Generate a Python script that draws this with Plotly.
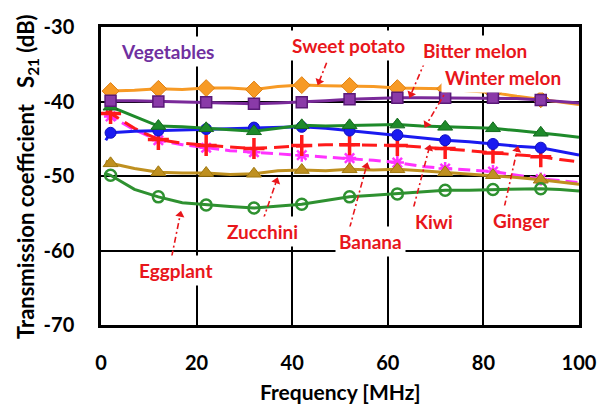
import math
import plotly.graph_objects as go

freq = [1, 2, 7, 12, 17, 22, 27, 32, 37, 42, 47, 52, 57, 62, 67, 72, 77, 82, 87, 92, 96, 100]
marker_freqs = [2, 12, 22, 32, 42, 52, 62, 72, 82, 92]

sweet_potato = [-38.9, -38.6, -38.5, -38.3, -38.4, -38.2, -38.2, -38.4, -38.0, -37.8, -37.9,
                -37.9, -38.0, -38.2, -38.2, -38.3, -38.6, -38.8, -39.3, -39.7, -40.0, -40.4]
bitter_melon = [-40.0, -39.9, -39.9, -40.0, -40.1, -40.1, -40.2, -40.3, -40.2, -40.1, -39.9,
                -39.7, -39.6, -39.5, -39.5, -39.5, -39.5, -39.5, -39.6, -39.8, -40.0, -40.2]
winter_melon = [-40.4, -40.7, -42.0, -43.3, -43.4, -43.6, -43.9, -44.0, -43.6, -43.2, -43.3,
                -43.2, -43.2, -43.1, -43.3, -43.4, -43.5, -43.6, -43.9, -44.2, -44.5, -44.8]
blue_series = [-45.2, -44.2, -44.0, -43.9, -43.8, -43.7, -43.6, -43.5, -43.4, -43.4, -43.6,
               -43.9, -44.2, -44.5, -44.9, -45.2, -45.4, -45.7, -46.0, -46.2, -46.7, -47.2]
kiwi = [-41.3, -41.6, -43.6, -45.1, -45.6, -45.9, -46.1, -46.3, -46.1, -45.9, -45.8,
        -45.8, -45.8, -45.9, -46.1, -46.3, -46.6, -46.9, -47.1, -47.4, -47.8, -48.1]
banana = [-41.8, -42.0, -43.8, -45.2, -45.8, -46.2, -46.6, -46.8, -47.0, -47.2, -47.5,
          -47.6, -47.9, -48.2, -48.7, -49.0, -49.2, -49.4, -49.9, -50.4, -50.6, -50.9]
zucchini = [-48.0, -48.3, -49.0, -49.5, -49.6, -49.6, -49.8, -49.7, -49.3, -49.2, -49.3,
            -49.1, -49.2, -49.1, -49.3, -49.5, -49.7, -49.9, -50.2, -50.5, -50.8, -51.1]
eggplant = [-49.7, -49.9, -51.8, -52.8, -53.6, -53.9, -54.1, -54.3, -54.0, -53.8, -53.3,
            -52.8, -52.6, -52.4, -52.1, -51.9, -51.9, -51.8, -51.8, -51.7, -51.8, -52.0]

x_ticks = [0, 20, 40, 60, 80, 100]
x_tick_text = ["0", "20", "40", "60", "80", "100"]
y_ticks = [-70, -60, -50, -40, -30]
y_tick_text = ["-70", "-60", "-50", "-40", "-30"]

FONT = "Lato"
RED = "#E8161B"
fig = go.Figure()

series = [
    (banana, "#FF33FF", "12px,6px", dict(symbol="asterisk-open", size=11, color="#FF33FF", line=dict(width=2.5, color="#FF33FF"))),
    (kiwi, "#FF1A1A", "15px,7px", dict(symbol="cross-thin-open", size=15, color="#FF1A1A", line=dict(width=3.5, color="#FF1A1A"))),
    (zucchini, "#BF9020", None, dict(symbol="triangle-up", size=13, color="#BF9020", line=dict(width=1, color="#A07810"))),
    (eggplant, "#2E9130", None, dict(symbol="circle-open", size=11, color="#2E9130", line=dict(width=2.5, color="#2E9130"))),
    (blue_series, "#1A1AF0", None, dict(symbol="circle", size=11, color="#1A1AF0", line=dict(width=1, color="#1010C0"))),
    (winter_melon, "#1E8A2A", None, dict(symbol="triangle-up", size=13, color="#1E8A2A", line=dict(width=1, color="#156A1E"))),
    (sweet_potato, "#F79A25", None, dict(symbol="diamond", size=13, color="#F79A25", line=dict(width=1, color="#E08010"))),
    (bitter_melon, "#7A2A9A", None, dict(symbol="square", size=11, color="#8A3AA8", line=dict(width=1.5, color="#5A1A78"))),
]

for ys, col, dash, mk in series:
    line = dict(color=col, width=3)
    if dash:
        line["dash"] = dash
    fig.add_trace(go.Scatter(x=freq, y=ys, mode="lines", line=line, hoverinfo="skip", showlegend=False))
    mx = [f for f in freq if f in marker_freqs]
    my = [y for f, y in zip(freq, ys) if f in marker_freqs]
    fig.add_trace(go.Scatter(x=mx, y=my, mode="markers", marker=mk, hoverinfo="skip", showlegend=False))

# arrows: tail (x, y) -> head (x, y)
arrows = [
    ((47.2, -34.8), (45.4, -37.7)),
    ((67.8, -34.6), (64.6, -39.4)),
    ((72.7, -38.1), (67.8, -43.4)),
    ((65.4, -54.2), (68.8, -45.9)),
    ((84.4, -54.1), (87.2, -46.1)),
    ((52.0, -57.0), (55.7, -48.3)),
    ((33.9, -55.9), (36.9, -50.3)),
    ((14.8, -60.8), (16.7, -54.8)),
]
PX_X = 478.0 / 100.0
PX_Y = 298.0 / 40.0
head_x, head_y, head_ang = [], [], []
for (tx, ty), (hx, hy) in arrows:
    dx = (hx - tx) * PX_X
    dy = (hy - ty) * PX_Y
    n = math.hypot(dx, dy)
    back = 3.0
    sx = hx - dx / n * back / PX_X
    sy = hy - dy / n * back / PX_Y
    fig.add_shape(type="line", x0=tx, y0=ty, x1=sx, y1=sy, xref="x", yref="y",
                  line=dict(color=RED, width=1.6, dash="6px,3px,2px,3px"))
    head_x.append(sx)
    head_y.append(sy)
    head_ang.append(math.degrees(math.atan2(dx, dy)))

fig.add_trace(go.Scatter(x=head_x, y=head_y, mode="markers", hoverinfo="skip", showlegend=False,
                         marker=dict(symbol="triangle-up", size=8, color=RED, angle=head_ang,
                                     line=dict(width=0))))

# labels: (text, x, y, color)
labels = [
    ("Vegetables", 14.0, -33.3, "#7030A0"),
    ("Sweet potato", 51.8, -32.5, RED),
    ("Bitter melon", 78.2, -33.2, RED),
    ("Winter melon", 84.2, -36.8, RED),
    ("Kiwi", 69.6, -56.1, RED),
    ("Ginger", 87.9, -56.0, RED),
    ("Banana", 56.3, -58.8, RED),
    ("Zucchini", 33.8, -57.4, RED),
    ("Eggplant", 15.7, -62.7, RED),
]
for t, x, y, c in labels:
    fig.add_annotation(x=x, y=y, text=t, showarrow=False, bgcolor="white", borderpad=3,
                       font=dict(family=FONT, size=19, color=c, weight="bold"))

axis_font = dict(family=FONT, size=20, color="black", weight="bold")
title_font = dict(family=FONT, size=21, color="black", weight="bold")

# axis titles
fig.add_annotation(xref="paper", yref="paper", x=0.5, y=-0.222, text="Frequency [MHz]",
                   showarrow=False, xanchor="center", yanchor="middle", font=title_font)
fig.add_annotation(xref="paper", yref="paper", x=-0.155, y=0.5,
                   text="Transmission coefficient   S<sub>21</sub> (dB)", textangle=-90,
                   showarrow=False, xanchor="center", yanchor="middle",
                   font=dict(family=FONT, size=22, color="black", weight="bold"))

fig.update_xaxes(range=[0, 100], tickvals=x_ticks, ticktext=x_tick_text, showgrid=True,
                 gridcolor="black", gridwidth=1.5, automargin=False,
                 showline=True, linecolor="black", linewidth=2.5, mirror=True, zeroline=False,
                 ticks="", tickfont=axis_font, ticklabelstandoff=18)
fig.update_yaxes(range=[-70, -30], tickvals=y_ticks, ticktext=y_tick_text, showgrid=True,
                 gridcolor="black", gridwidth=1.5, automargin=False,
                 showline=True, linecolor="black", linewidth=2.5, mirror=True, zeroline=False,
                 ticks="", tickfont=axis_font, ticklabelstandoff=20)

fig.update_layout(width=607, height=407, autosize=False,
                  margin=dict(l=101, r=28, t=27, b=82),
                  plot_bgcolor="white", paper_bgcolor="white")

fig.write_html("out.html", config={"displayModeBar": False},
               post_script="document.body.style.margin='0';document.body.style.padding='0';document.body.style.overflow='hidden';")
